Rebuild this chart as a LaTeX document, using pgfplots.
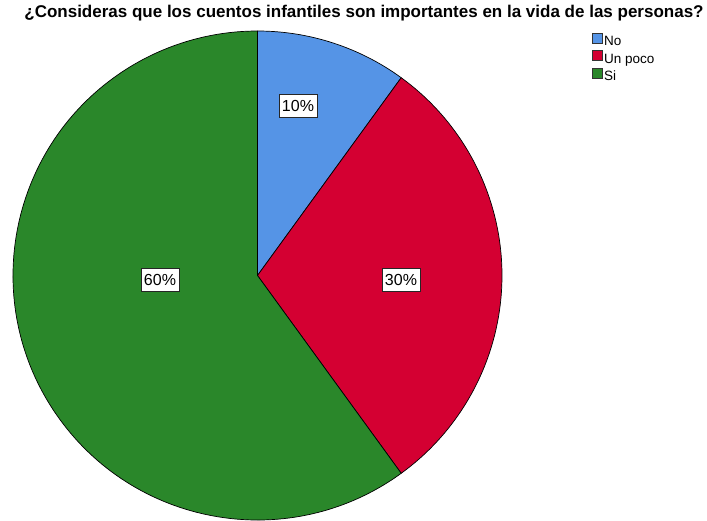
\documentclass[border=0pt]{standalone}
\usepackage{pgfplots}
\usepackage{pgfplotstable}
\pgfplotsset{compat=1.18}
\usepackage{fontspec}
\setmainfont{Liberation Sans}
\definecolor{cNo}{RGB}{85,148,230}
\definecolor{cUn}{RGB}{212,0,50}
\definecolor{cSi}{RGB}{42,135,42}
\pgfplotstableread[col sep=comma]{
label,pct,lx,ly
No,10,298,106
Un poco,30,401,280
Si,60,160,280
}\piedata
\begin{document}
\begin{tikzpicture}
\begin{axis}[
  name=ax,
  scale only axis, width=707pt, height=521pt,
  xmin=0, xmax=707, ymin=0, ymax=521, y dir=reverse,
  hide axis, clip=false,
  legend style={at={(axis cs:592,33)}, anchor=north west, draw=none, fill=none,
    font=\fontsize{13.5}{14}\selectfont, row sep=0pt, inner sep=0pt,
    nodes={inner sep=1.5pt, text height=10pt, text depth=3pt}},
  legend cell align=left,
  legend image code/.code={\draw[#1] (0pt,-1pt) rectangle (10pt,9pt);},
]
\path (axis cs:0,0) rectangle (axis cs:707,521);
\addlegendimage{fill=cNo, draw=black!80, line width=0.5pt}
\addlegendentry{No}
\addlegendimage{fill=cUn, draw=black!80, line width=0.5pt}
\addlegendentry{Un poco}
\addlegendimage{fill=cSi, draw=black!80, line width=0.5pt}
\addlegendentry{Si}
\pgfplotsextra{
  \gdef\cum{0}
  \foreach \i/\col in {0/cNo,1/cUn,2/cSi}{
    \pgfplotstablegetelem{\i}{pct}\of\piedata \let\p\pgfplotsretval
    \pgfmathsetmacro\a{90-3.6*\cum}
    \pgfmathsetmacro\b{90-3.6*(\cum+\p)}
    \filldraw[fill=\col, draw=black, line width=0.7pt, line join=round]
      (axis cs:257.5,275.5) -- ++(\a:244.5pt)
      arc[start angle=\a, end angle=\b, radius=244.5pt] -- cycle;
    \pgfmathsetmacro\newcum{\cum+\p}
    \xdef\cum{\newcum}
  }
  \foreach \i in {0,1,2}{
    \pgfplotstablegetelem{\i}{pct}\of\piedata \let\p\pgfplotsretval
    \pgfplotstablegetelem{\i}{lx}\of\piedata \let\lx\pgfplotsretval
    \pgfplotstablegetelem{\i}{ly}\of\piedata \let\ly\pgfplotsretval
    \node[fill=white, draw=black!85, line width=0.7pt, inner xsep=3pt, inner ysep=0pt,
      minimum height=23pt, font=\fontsize{16}{16}\selectfont] at (axis cs:\lx,\ly) {\p\%};
  }
}
\node[font=\bfseries\fontsize{17}{17}\selectfont] at (axis cs:364,13)
  {¿Consideras que los cuentos infantiles son importantes en la vida de las personas?};
\end{axis}
\pgfresetboundingbox
\path (ax.south west) rectangle (ax.north east);
\end{tikzpicture}
\end{document}
